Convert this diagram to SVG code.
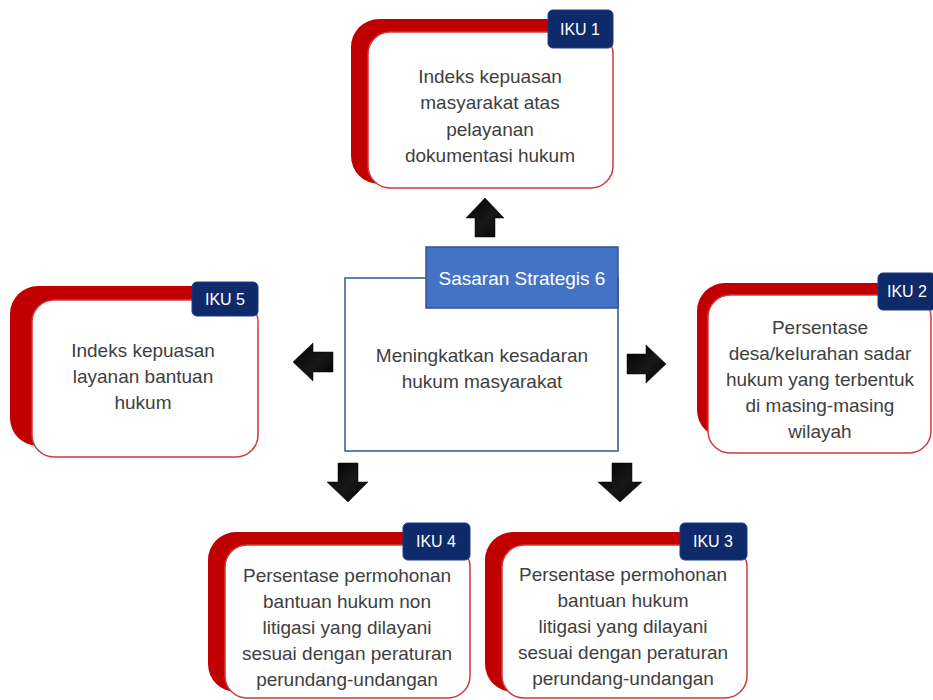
<svg xmlns="http://www.w3.org/2000/svg" width="933" height="700" viewBox="0 0 933 700">
<defs>
<style>
.red{fill:#C00000}
.card{fill:#ffffff;stroke:#D03A3A;stroke-width:1.5}
.badge{fill:#0E2A6B;stroke:#1A3C85;stroke-width:1}
.bt{font-family:"Liberation Sans",Arial,sans-serif;font-size:16px;fill:#ffffff;text-anchor:middle}
.t{font-family:"Liberation Sans",Arial,sans-serif;font-size:19px;fill:#404040;text-anchor:middle}
.arrow{fill:url(#ag);stroke:#000;stroke-width:0.5}
</style>
<linearGradient id="ag" x1="0" y1="0" x2="1" y2="1">
<stop offset="0" stop-color="#000"/>
<stop offset="0.55" stop-color="#181818"/>
<stop offset="1" stop-color="#000"/>
</linearGradient>
</defs>
<rect width="933" height="700" fill="#ffffff"/>

<g id="connectors">
<polygon class="arrow" points="485,198 504,218 495,218 495,237 475,237 475,218 466,218"/>
<polygon class="arrow" points="293,362 313,343 313,352 333,352 333,372 313,372 313,381"/>
<polygon class="arrow" points="666,364 646,345 646,354 627,354 627,374 646,374 646,383"/>
<polygon class="arrow" points="348,502 368,482 358,482 358,463 338,463 338,482 327,482"/>
<polygon class="arrow" points="620,502 642,482 632,482 632,463 612,463 612,482 598,482"/>
</g>

<g id="center">
<rect x="345" y="278" width="273" height="173" fill="#ffffff" stroke="#2F5597" stroke-width="1.5"/>
<rect x="426" y="247" width="192" height="61" fill="#4472C4" stroke="#2F5597" stroke-width="1.5"/>
<text class="t" x="522" y="285" style="fill:#ffffff">Sasaran Strategis 6</text>
<text class="t" x="482" y="362">Meningkatkan kesadaran</text>
<text class="t" x="482" y="388">hukum masyarakat</text>
</g>

<g id="iku1">
<rect class="red" x="351" y="19" width="250" height="165" rx="28"/>
<rect class="card" x="368" y="32" width="245" height="156" rx="22"/>
<rect class="badge" x="548" y="10" width="65" height="38" rx="5"/>
<text class="bt" x="580" y="35">IKU 1</text>
<text class="t" x="490" y="83">Indeks kepuasan</text>
<text class="t" x="490" y="109">masyarakat atas</text>
<text class="t" x="490" y="136">pelayanan</text>
<text class="t" x="490" y="162">dokumentasi hukum</text>
</g>

<g id="iku2">
<rect class="red" x="697" y="283" width="220" height="155" rx="28"/>
<rect class="card" x="708" y="295" width="223" height="158" rx="22"/>
<rect class="badge" x="878" y="273" width="58" height="37" rx="5"/>
<text class="bt" x="907" y="297">IKU 2</text>
<text class="t" x="820" y="334">Persentase</text>
<text class="t" x="820" y="360">desa/kelurahan sadar</text>
<text class="t" x="820" y="386">hukum yang terbentuk</text>
<text class="t" x="820" y="412">di masing-masing</text>
<text class="t" x="820" y="438">wilayah</text>
</g>

<g id="iku5">
<rect class="red" x="10" y="286" width="230" height="160" rx="28"/>
<rect class="card" x="32" y="300" width="226" height="157" rx="22"/>
<rect class="badge" x="192" y="282" width="66" height="34" rx="5"/>
<text class="bt" x="225" y="305">IKU 5</text>
<text class="t" x="143" y="357">Indeks kepuasan</text>
<text class="t" x="143" y="383">layanan bantuan</text>
<text class="t" x="143" y="409">hukum</text>
</g>

<g id="iku4">
<rect class="red" x="208" y="532" width="240" height="160" rx="28"/>
<rect class="card" x="225" y="545" width="245" height="153" rx="22"/>
<rect class="badge" x="403" y="523" width="67" height="37" rx="5"/>
<text class="bt" x="436" y="547">IKU 4</text>
<text class="t" x="347" y="582">Persentase permohonan</text>
<text class="t" x="347" y="608">bantuan hukum non</text>
<text class="t" x="347" y="634">litigasi yang dilayani</text>
<text class="t" x="347" y="660">sesuai dengan peraturan</text>
<text class="t" x="347" y="686">perundang-undangan</text>
</g>

<g id="iku3">
<rect class="red" x="485" y="532" width="240" height="160" rx="28"/>
<rect class="card" x="502" y="545" width="245" height="153" rx="22"/>
<rect class="badge" x="680" y="523" width="67" height="37" rx="5"/>
<text class="bt" x="713" y="547">IKU 3</text>
<text class="t" x="623" y="581">Persentase permohonan</text>
<text class="t" x="623" y="607">bantuan hukum</text>
<text class="t" x="623" y="633">litigasi yang dilayani</text>
<text class="t" x="623" y="659">sesuai dengan peraturan</text>
<text class="t" x="623" y="685">perundang-undangan</text>
</g>
</svg>
